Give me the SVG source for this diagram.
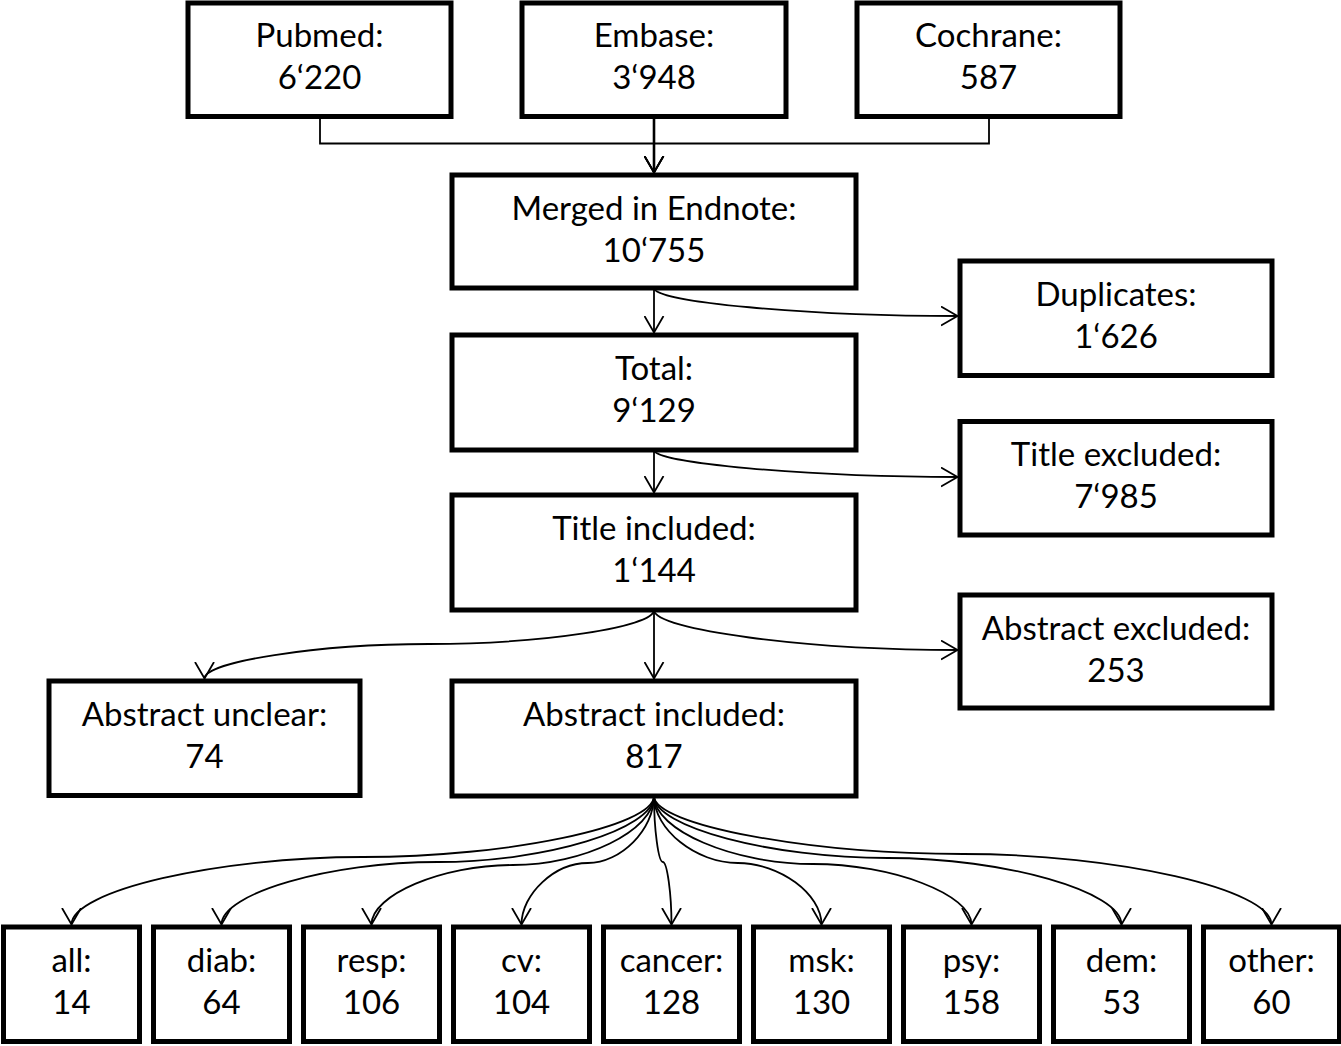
<svg xmlns="http://www.w3.org/2000/svg" width="1341" height="1046" viewBox="0 0 1341 1046">
<style>
.box{fill:#fff;stroke:#000;stroke-width:5}
.t{font-family:Lato,"Liberation Sans",sans-serif;font-size:33px;fill:#000;text-anchor:middle}
.c{fill:none;stroke:#000;stroke-width:1.8;marker-end:url(#arr)}
</style>
<defs>
<marker id="arr" viewBox="0 0 19 21" refX="17" refY="10.5" markerWidth="19" markerHeight="21" orient="auto" markerUnits="userSpaceOnUse">
<path d="M0.5,1 L17,10.5 L0.5,20" fill="none" stroke="#000" stroke-width="1.8"/>
</marker>
</defs>
<rect width="1341" height="1046" fill="#fff"/>
<g id="connectors">
<path class="c" d="M320,116 V143.5 H654 V172.5"/>
<path class="c" d="M989,116 V143.5 H654 V172.5"/>
<path class="c" style="stroke-width:2.6" d="M654,116 V172.5"/>
<path class="c" d="M654,288 V332.5"/>
<path class="c" d="M654,288 C654,302 807,316 957.5,316"/>
<path class="c" d="M654,450 V492.5"/>
<path class="c" d="M654,450 C654,463 807,477 957.5,477"/>
<path class="c" d="M654,610 V678.5"/>
<path class="c" d="M654,610 C654,630 807,650 957.5,650"/>
<path class="c" d="M654,610 C654,627 541.5,644 429,644 C316.5,644 204.5,662 204.5,678.5"/>
<path class="c" d="M654,796 C654,826.5 508.4,857 362.8,857 C217.1,857 71.5,891 71.5,924.5"/>
<path class="c" d="M654,796 C654,829 545.9,862 437.8,862 C329.6,862 221.5,893.5 221.5,924.5"/>
<path class="c" d="M654,796 C654,830.5 583.4,865 512.8,865 C442.1,865 371.5,895 371.5,924.5"/>
<path class="c" d="M654,796 C654,829.5 620.9,863 587.8,863 C554.6,863 521.5,894 521.5,924.5"/>
<path class="c" d="M654,796 C654,829 658.4,862 662.8,862 C667.1,862 671.5,893.5 671.5,924.5"/>
<path class="c" d="M654,796 C654,829.5 695.9,863 737.8,863 C779.6,863 821.5,894 821.5,924.5"/>
<path class="c" d="M654,796 C654,830 733.4,864 812.8,864 C892.1,864 971.5,894.5 971.5,924.5"/>
<path class="c" d="M654,796 C654,827 770.9,858 887.8,858 C1004.6,858 1121.5,891.5 1121.5,924.5"/>
<path class="c" d="M654,796 C654,825 808.4,854 962.8,854 C1117.1,854 1271.5,889.5 1271.5,924.5"/>
</g>
<g id="pubmed"><rect class="box" x="188" y="3" width="263" height="113.5"/><text class="t" x="319.5" y="47">Pubmed:</text><text class="t" x="319.5" y="89">6‘220</text></g>
<g id="embase"><rect class="box" x="522" y="3" width="264" height="113.5"/><text class="t" x="654" y="47">Embase:</text><text class="t" x="654" y="89">3‘948</text></g>
<g id="cochrane"><rect class="box" x="857" y="3" width="263" height="113.5"/><text class="t" x="988.5" y="47">Cochrane:</text><text class="t" x="988.5" y="89">587</text></g>
<g id="merged"><rect class="box" x="452" y="175" width="404" height="113"/><text class="t" x="654" y="219.5">Merged in Endnote:</text><text class="t" x="654" y="261.5">10‘755</text></g>
<g id="duplicates"><rect class="box" x="960" y="261" width="312" height="114.5"/><text class="t" x="1116" y="305.5">Duplicates:</text><text class="t" x="1116" y="347.5">1‘626</text></g>
<g id="total"><rect class="box" x="452" y="335" width="404" height="115"/><text class="t" x="654" y="380">Total:</text><text class="t" x="654" y="422">9‘129</text></g>
<g id="title-excluded"><rect class="box" x="960" y="421.5" width="312" height="113.5"/><text class="t" x="1116" y="466">Title excluded:</text><text class="t" x="1116" y="508">7‘985</text></g>
<g id="title-included"><rect class="box" x="452" y="495" width="404" height="115"/><text class="t" x="654" y="540">Title included:</text><text class="t" x="654" y="582">1‘144</text></g>
<g id="abstract-excluded"><rect class="box" x="960" y="595" width="312" height="113"/><text class="t" x="1116" y="639.5">Abstract excluded:</text><text class="t" x="1116" y="681.5">253</text></g>
<g id="abstract-unclear"><rect class="box" x="49" y="681" width="311" height="114.5"/><text class="t" x="204.5" y="725.5">Abstract unclear:</text><text class="t" x="204.5" y="767.5">74</text></g>
<g id="abstract-included"><rect class="box" x="452" y="681" width="404" height="115"/><text class="t" x="654" y="725.5">Abstract included:</text><text class="t" x="654" y="767.5">817</text></g>
<g id="all"><rect class="box" x="3.5" y="927" width="136" height="114.5"/><text class="t" x="71.5" y="971.5">all:</text><text class="t" x="71.5" y="1013.5">14</text></g>
<g id="diab"><rect class="box" x="153.5" y="927" width="136" height="114.5"/><text class="t" x="221.5" y="971.5">diab:</text><text class="t" x="221.5" y="1013.5">64</text></g>
<g id="resp"><rect class="box" x="303.5" y="927" width="136" height="114.5"/><text class="t" x="371.5" y="971.5">resp:</text><text class="t" x="371.5" y="1013.5">106</text></g>
<g id="cv"><rect class="box" x="453.5" y="927" width="136" height="114.5"/><text class="t" x="521.5" y="971.5">cv:</text><text class="t" x="521.5" y="1013.5">104</text></g>
<g id="cancer"><rect class="box" x="603.5" y="927" width="136" height="114.5"/><text class="t" x="671.5" y="971.5">cancer:</text><text class="t" x="671.5" y="1013.5">128</text></g>
<g id="msk"><rect class="box" x="753.5" y="927" width="136" height="114.5"/><text class="t" x="821.5" y="971.5">msk:</text><text class="t" x="821.5" y="1013.5">130</text></g>
<g id="psy"><rect class="box" x="903.5" y="927" width="136" height="114.5"/><text class="t" x="971.5" y="971.5">psy:</text><text class="t" x="971.5" y="1013.5">158</text></g>
<g id="dem"><rect class="box" x="1053.5" y="927" width="136" height="114.5"/><text class="t" x="1121.5" y="971.5">dem:</text><text class="t" x="1121.5" y="1013.5">53</text></g>
<g id="other"><rect class="box" x="1203.5" y="927" width="136" height="114.5"/><text class="t" x="1271.5" y="971.5">other:</text><text class="t" x="1271.5" y="1013.5">60</text></g>
</svg>
